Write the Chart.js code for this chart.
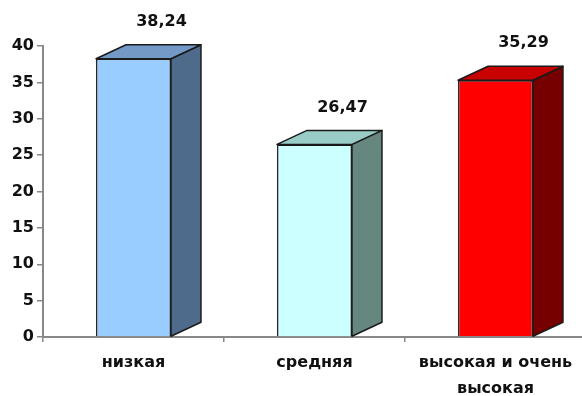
<!DOCTYPE html>
<html>
<head>
<meta charset="utf-8">
<script src="https://cdn.jsdelivr.net/npm/chart.js@4/dist/chart.umd.min.js"></script>
<style>
  html, body { margin: 0; padding: 0; background: #fff; overflow: hidden; }
  #wrap { width: 586px; height: 396px; }
</style>
</head>
<body>
<div id="wrap"><canvas id="c" width="586" height="396"></canvas></div>
<script>
// Categories and values
const categories = ['низкая', 'средняя', ['высокая и очень', 'высокая']];
const values = [38.24, 26.47, 35.29];
const yTicks = [0, 5, 10, 15, 20, 25, 30, 35, 40];

// Face colours of each column: front, top, side
const frontColors = ['#99CCFF', '#CCFFFF', '#FF0000'];
const topColors = ['#7399C6', '#99CCC6', '#C80000'];
const sideColors = ['#4F6B8C', '#66877F', '#760000'];

const FONT = "'DejaVu Sans', 'Liberation Sans', Arial, sans-serif";
const DEPTH_X = 30;
const DEPTH_Y = 14;
const OUTLINE = '#1a1a1a';

function fmt(v) {
  return v.toFixed(2).replace('.', ',');
}

// Draws the top and side faces of each column plus the value label above it
const columns3d = {
  id: 'columns3d',
  afterDatasetsDraw(chart) {
    const ctx = chart.ctx;
    const meta = chart.getDatasetMeta(0);
    meta.data.forEach((bar, i) => {
      const p = bar.getProps(['x', 'y', 'base', 'width'], true);
      const l = p.x - p.width / 2, r = p.x + p.width / 2;
      const t = p.y, b = p.base;
      ctx.save();
      ctx.lineJoin = 'round';
      ctx.lineWidth = 1.5;
      ctx.strokeStyle = OUTLINE;
      // side
      ctx.beginPath();
      ctx.moveTo(r, t);
      ctx.lineTo(r + DEPTH_X, t - DEPTH_Y);
      ctx.lineTo(r + DEPTH_X, b - DEPTH_Y);
      ctx.lineTo(r, b);
      ctx.closePath();
      ctx.fillStyle = sideColors[i];
      ctx.fill();
      ctx.stroke();
      // top
      ctx.beginPath();
      ctx.moveTo(l, t);
      ctx.lineTo(l + DEPTH_X, t - DEPTH_Y);
      ctx.lineTo(r + DEPTH_X, t - DEPTH_Y);
      ctx.lineTo(r, t);
      ctx.closePath();
      ctx.fillStyle = topColors[i];
      ctx.fill();
      ctx.stroke();
      // value label
      ctx.fillStyle = '#111';
      ctx.font = 'bold 16px ' + FONT;
      ctx.textAlign = 'center';
      ctx.textBaseline = 'middle';
      ctx.fillText(fmt(values[i]), p.x + DEPTH_X - 2, t - DEPTH_Y - 23);
      ctx.restore();
    });
  }
};

new Chart(document.getElementById('c'), {
  type: 'bar',
  data: {
    labels: categories,
    datasets: [{
      data: values,
      backgroundColor: frontColors,
      borderColor: OUTLINE,
      borderWidth: 1.5,
      barPercentage: 0.414,
      categoryPercentage: 1.0
    }]
  },
  options: {
    responsive: false,
    animation: false,
    events: [],
    layout: { padding: { top: 46, left: 0, right: 0, bottom: 0 } },
    plugins: {
      legend: { display: false },
      tooltip: { enabled: false }
    },
    scales: {
      x: {
        offset: true,
        afterFit: s => { s.height = 59; },
        grid: {
          offset: true,
          drawOnChartArea: false,
          drawTicks: true,
          tickLength: 5,
          color: '#888',
          lineWidth: 1.5
        },
        border: { display: true, color: '#888', width: 2 },
        ticks: {
          color: '#111',
          padding: 8,
          maxRotation: 0,
          autoSkip: false,
          font: { family: FONT, size: 16, weight: 'bold', lineHeight: 1.6 }
        }
      },
      y: {
        min: 0,
        max: 40,
        afterFit: s => { s.width = 43; },
        afterBuildTicks: s => { s.ticks = yTicks.map(v => ({ value: v })); },
        grid: {
          drawOnChartArea: false,
          drawTicks: true,
          tickLength: 6,
          color: '#888',
          lineWidth: 1.5
        },
        border: { display: true, color: '#888', width: 2 },
        ticks: {
          color: '#111',
          padding: 3,
          font: { family: FONT, size: 16, weight: 'bold' }
        }
      }
    }
  },
  plugins: [columns3d]
});
</script>
</body>
</html>
